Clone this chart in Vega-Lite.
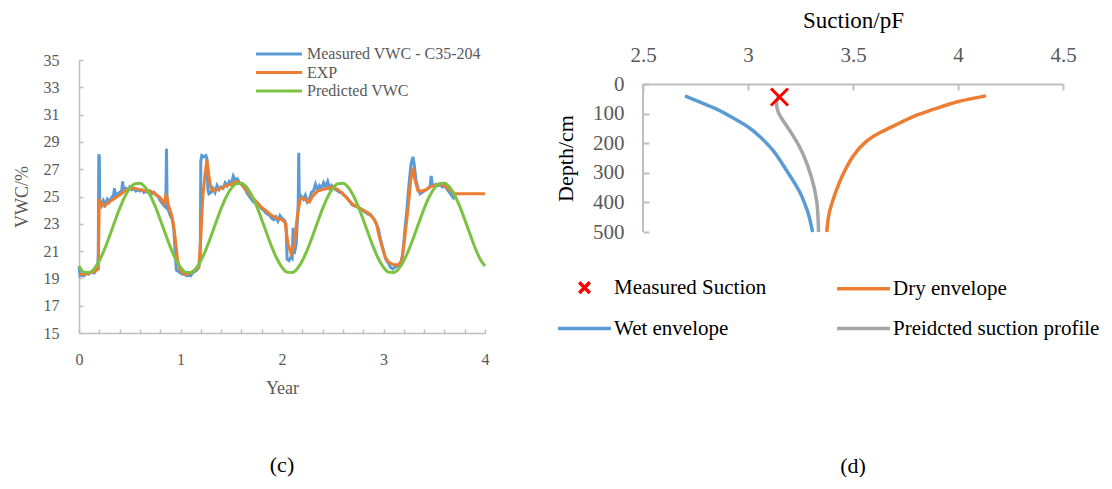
{
"$schema": "https://vega.github.io/schema/vega-lite/v6.json",
"background": "white",
"padding": {"left": 13, "top": 9, "right": 0, "bottom": 0},
"bounds": "flush",
"spacing": 158,
"resolve": {"scale": {"color": "independent", "shape": "independent"}, "legend": {"color": "independent", "shape": "independent"}},
"config": {"view": {"stroke": null}, "font": "Liberation Serif", "axis": {"grid": false, "domainColor": "#BFBFBF", "tickColor": "#BFBFBF", "domainWidth": 1.5, "tickWidth": 1.5, "labelFont": "Liberation Serif", "titleFont": "Liberation Serif", "titleFontWeight": "normal", "labelFlush": false, "labelOverlap": false}, "legend": {"labelFont": "Liberation Serif", "labelLimit": 500}},
"hconcat": [
{
"width": 406, "height": 273,
"title": {"text": "(c)", "orient": "bottom", "frame": "group", "anchor": "middle", "offset": 58, "fontSize": 22, "font": "Liberation Serif", "fontWeight": "normal", "color": "#000000"},
"encoding": {
"x": {"field": "t", "type": "quantitative", "scale": {"domain": [0, 4], "nice": false}, "axis": {"values": [0,0.2,0.4,0.6,0.8,1,1.2,1.4,1.6,1.8,2,2.2,2.4,2.6,2.8,3,3.2,3.4,3.6,3.8,4], "format": "~g", "labelExpr": "datum.value % 1 === 0 ? datum.label : ''", "labelOverlap": false, "tickSize": -4, "labelPadding": 22, "labelFontSize": 16, "labelColor": "#595959", "title": "Year", "titleFontSize": 18, "titleColor": "#595959", "titlePadding": 12}},
"y": {"field": "v", "type": "quantitative", "scale": {"domain": [15, 35], "nice": false, "zero": false}, "axis": {"values": [15,17,19,21,23,25,27,29,31,33,35], "labelOverlap": false, "tickSize": -4, "labelPadding": 24, "labelFontSize": 16, "labelColor": "#595959", "title": "VWC/%", "titleFontSize": 18, "titleColor": "#595959", "titlePadding": 12}}
},
"layer": [
{"data": {"values": [
{"t":0,"v":19.9},{"t":0.01,"v":19.2},{"t":0.03,"v":19.3},{"t":0.05,"v":19.2},{"t":0.07,"v":19.4},{"t":0.09,"v":19.3},{"t":0.11,"v":19.4},{"t":0.13,"v":19.5},{"t":0.15,"v":19.4},{"t":0.17,"v":19.6},{"t":0.185,"v":19.7},{"t":0.19,"v":21.0},{"t":0.195,"v":28.1},{"t":0.2,"v":27.9},{"t":0.205,"v":24.5},{"t":0.22,"v":24.3},{"t":0.24,"v":24.7},{"t":0.26,"v":24.4},{"t":0.28,"v":24.8},{"t":0.3,"v":24.6},{"t":0.32,"v":24.9},{"t":0.34,"v":25.1},{"t":0.35,"v":25.6},{"t":0.36,"v":25.0},{"t":0.38,"v":25.2},{"t":0.4,"v":25.3},{"t":0.42,"v":25.4},{"t":0.43,"v":26.1},{"t":0.44,"v":25.4},{"t":0.46,"v":25.6},{"t":0.48,"v":25.5},{"t":0.5,"v":25.7},{"t":0.52,"v":25.5},{"t":0.54,"v":25.6},{"t":0.56,"v":25.4},{"t":0.58,"v":25.5},{"t":0.6,"v":25.4},{"t":0.62,"v":25.5},{"t":0.64,"v":25.3},{"t":0.66,"v":25.4},{"t":0.68,"v":25.3},{"t":0.7,"v":25.4},{"t":0.72,"v":25.2},{"t":0.74,"v":25.3},{"t":0.76,"v":25.1},{"t":0.78,"v":25.0},{"t":0.8,"v":24.7},{"t":0.82,"v":24.5},{"t":0.84,"v":24.3},{"t":0.855,"v":24.2},{"t":0.862,"v":28.5},{"t":0.868,"v":24.5},{"t":0.88,"v":24.0},{"t":0.9,"v":23.6},{"t":0.92,"v":23.3},{"t":0.935,"v":22.5},{"t":0.95,"v":20.5},{"t":0.96,"v":19.6},{"t":0.98,"v":19.5},{"t":1.0,"v":19.4},{"t":1.02,"v":19.3},{"t":1.04,"v":19.3},{"t":1.06,"v":19.2},{"t":1.08,"v":19.3},{"t":1.1,"v":19.2},{"t":1.12,"v":19.4},{"t":1.14,"v":19.5},{"t":1.16,"v":19.6},{"t":1.18,"v":19.8},{"t":1.195,"v":20.5},{"t":1.2,"v":27.6},{"t":1.21,"v":28.0},{"t":1.23,"v":27.9},{"t":1.25,"v":28.0},{"t":1.26,"v":27.8},{"t":1.27,"v":25.5},{"t":1.28,"v":25.2},{"t":1.3,"v":25.3},{"t":1.32,"v":25.6},{"t":1.34,"v":25.3},{"t":1.36,"v":25.8},{"t":1.38,"v":25.5},{"t":1.4,"v":25.7},{"t":1.42,"v":25.6},{"t":1.44,"v":26.0},{"t":1.46,"v":25.8},{"t":1.48,"v":26.1},{"t":1.5,"v":25.9},{"t":1.52,"v":26.5},{"t":1.54,"v":26.2},{"t":1.56,"v":26.3},{"t":1.58,"v":26.0},{"t":1.6,"v":25.9},{"t":1.62,"v":25.7},{"t":1.64,"v":25.5},{"t":1.66,"v":25.2},{"t":1.68,"v":25.0},{"t":1.7,"v":24.8},{"t":1.72,"v":24.6},{"t":1.74,"v":24.6},{"t":1.76,"v":24.5},{"t":1.78,"v":24.3},{"t":1.8,"v":24.1},{"t":1.82,"v":24.0},{"t":1.84,"v":23.8},{"t":1.86,"v":23.7},{"t":1.88,"v":23.6},{"t":1.9,"v":23.4},{"t":1.92,"v":23.3},{"t":1.94,"v":23.5},{"t":1.96,"v":23.2},{"t":1.98,"v":23.6},{"t":2.0,"v":23.4},{"t":2.02,"v":23.3},{"t":2.04,"v":23.0},{"t":2.05,"v":20.4},{"t":2.07,"v":20.3},{"t":2.09,"v":20.6},{"t":2.1,"v":20.5},{"t":2.11,"v":22.7},{"t":2.12,"v":20.8},{"t":2.14,"v":21.5},{"t":2.16,"v":24.5},{"t":2.165,"v":28.2},{"t":2.17,"v":25.2},{"t":2.19,"v":25.0},{"t":2.21,"v":24.8},{"t":2.23,"v":25.1},{"t":2.25,"v":24.6},{"t":2.27,"v":24.8},{"t":2.29,"v":25.3},{"t":2.31,"v":25.4},{"t":2.33,"v":25.9},{"t":2.35,"v":25.5},{"t":2.37,"v":25.8},{"t":2.39,"v":25.6},{"t":2.41,"v":26.0},{"t":2.43,"v":25.7},{"t":2.45,"v":26.1},{"t":2.47,"v":25.6},{"t":2.49,"v":25.8},{"t":2.51,"v":25.6},{"t":2.53,"v":25.5},{"t":2.55,"v":25.4},{"t":2.57,"v":25.3},{"t":2.59,"v":25.3},{"t":2.61,"v":25.1},{"t":2.63,"v":25.0},{"t":2.65,"v":24.8},{"t":2.67,"v":24.6},{"t":2.69,"v":24.4},{"t":2.71,"v":24.3},{"t":2.73,"v":24.3},{"t":2.75,"v":24.2},{"t":2.77,"v":24.1},{"t":2.79,"v":24.0},{"t":2.81,"v":23.9},{"t":2.83,"v":23.8},{"t":2.85,"v":23.7},{"t":2.87,"v":23.7},{"t":2.89,"v":23.5},{"t":2.91,"v":23.3},{"t":2.93,"v":23.0},{"t":2.95,"v":22.6},{"t":2.97,"v":21.9},{"t":2.99,"v":21.3},{"t":3.01,"v":20.7},{"t":3.03,"v":20.3},{"t":3.05,"v":20.1},{"t":3.07,"v":19.8},{"t":3.09,"v":19.7},{"t":3.11,"v":19.8},{"t":3.13,"v":19.9},{"t":3.15,"v":19.9},{"t":3.17,"v":20.1},{"t":3.19,"v":20.8},{"t":3.21,"v":22.5},{"t":3.23,"v":24.0},{"t":3.25,"v":25.8},{"t":3.27,"v":27.3},{"t":3.29,"v":27.9},{"t":3.3,"v":27.5},{"t":3.32,"v":26.2},{"t":3.34,"v":25.6},{"t":3.36,"v":25.2},{"t":3.38,"v":25.3},{"t":3.4,"v":25.4},{"t":3.42,"v":25.5},{"t":3.44,"v":25.6},{"t":3.46,"v":25.8},{"t":3.47,"v":26.5},{"t":3.48,"v":25.9},{"t":3.5,"v":25.8},{"t":3.52,"v":25.9},{"t":3.54,"v":25.8},{"t":3.56,"v":25.9},{"t":3.58,"v":25.7},{"t":3.6,"v":25.8},{"t":3.62,"v":25.6},{"t":3.64,"v":25.4},{"t":3.66,"v":25.2},{"t":3.68,"v":25.0},{"t":3.7,"v":24.8}
]},
"mark": {"type": "line", "strokeWidth": 3},
"encoding": {"color": {"datum": "Measured VWC - C35-204", "type": "nominal", "scale": {"domain": ["Measured VWC - C35-204", "EXP", "Predicted VWC"], "range": ["#5B9BD5", "#ED7D31", "#7CC242"]}, "legend": {"title": null, "orient": "none", "legendX": 192, "legendY": -14, "direction": "vertical", "symbolType": "M-4,0L4,0", "symbolSize": 132, "symbolStrokeWidth": 3, "labelFontSize": 16, "labelColor": "#595959", "labelOffset": 20, "labelLimit": 500, "rowPadding": 2.5, "padding": 0}}}
},
{"data": {"values": [
{"t":0,"v":19.3},{"t":0.05,"v":19.3},{"t":0.1,"v":19.4},{"t":0.15,"v":19.5},{"t":0.19,"v":19.7},{"t":0.2,"v":24.8},{"t":0.22,"v":24.5},{"t":0.25,"v":24.3},{"t":0.28,"v":24.5},{"t":0.32,"v":24.7},{"t":0.36,"v":24.9},{"t":0.4,"v":25.1},{"t":0.45,"v":25.4},{"t":0.5,"v":25.6},{"t":0.55,"v":25.6},{"t":0.6,"v":25.5},{"t":0.65,"v":25.4},{"t":0.7,"v":25.4},{"t":0.75,"v":25.2},{"t":0.8,"v":24.9},{"t":0.84,"v":24.5},{"t":0.86,"v":25.2},{"t":0.88,"v":24.4},{"t":0.91,"v":23.7},{"t":0.93,"v":23.0},{"t":0.95,"v":21.8},{"t":0.97,"v":20.4},{"t":0.99,"v":19.7},{"t":1.02,"v":19.4},{"t":1.06,"v":19.3},{"t":1.1,"v":19.4},{"t":1.14,"v":19.6},{"t":1.18,"v":19.8},{"t":1.2,"v":22.0},{"t":1.22,"v":25.0},{"t":1.24,"v":26.5},{"t":1.26,"v":27.7},{"t":1.28,"v":26.5},{"t":1.3,"v":25.6},{"t":1.33,"v":25.4},{"t":1.36,"v":25.5},{"t":1.4,"v":25.6},{"t":1.45,"v":25.8},{"t":1.5,"v":25.9},{"t":1.55,"v":26.1},{"t":1.6,"v":25.9},{"t":1.65,"v":25.5},{"t":1.7,"v":25.0},{"t":1.75,"v":24.6},{"t":1.8,"v":24.2},{"t":1.85,"v":23.9},{"t":1.9,"v":23.6},{"t":1.95,"v":23.4},{"t":2.0,"v":23.3},{"t":2.03,"v":23.1},{"t":2.06,"v":21.5},{"t":2.09,"v":20.8},{"t":2.12,"v":21.4},{"t":2.15,"v":23.5},{"t":2.18,"v":24.8},{"t":2.21,"v":24.9},{"t":2.24,"v":24.7},{"t":2.27,"v":24.6},{"t":2.3,"v":25.0},{"t":2.35,"v":25.4},{"t":2.4,"v":25.5},{"t":2.45,"v":25.6},{"t":2.5,"v":25.7},{"t":2.55,"v":25.5},{"t":2.6,"v":25.2},{"t":2.65,"v":24.8},{"t":2.7,"v":24.4},{"t":2.75,"v":24.2},{"t":2.8,"v":24.0},{"t":2.85,"v":23.8},{"t":2.9,"v":23.4},{"t":2.93,"v":23.0},{"t":2.96,"v":22.0},{"t":2.99,"v":21.2},{"t":3.02,"v":20.5},{"t":3.05,"v":20.2},{"t":3.1,"v":20.0},{"t":3.15,"v":20.0},{"t":3.18,"v":20.3},{"t":3.21,"v":22.0},{"t":3.24,"v":24.0},{"t":3.27,"v":26.3},{"t":3.29,"v":27.1},{"t":3.31,"v":26.2},{"t":3.34,"v":25.4},{"t":3.38,"v":25.4},{"t":3.42,"v":25.5},{"t":3.46,"v":25.7},{"t":3.5,"v":25.8},{"t":3.55,"v":25.9},{"t":3.6,"v":25.8},{"t":3.65,"v":25.5},{"t":3.7,"v":25.2},{"t":4.0,"v":25.2}
]},
"mark": {"type": "line", "strokeWidth": 3},
"encoding": {"color": {"datum": "EXP", "type": "nominal"}}
},
{"data": {"values": [
{"t":0,"v":19.9},{"t":0.05,"v":19.46},{"t":0.1,"v":19.43},{"t":0.15,"v":19.71},{"t":0.2,"v":20.29},{"t":0.25,"v":21.11},{"t":0.3,"v":22.08},{"t":0.35,"v":23.11},{"t":0.4,"v":24.11},{"t":0.45,"v":24.96},{"t":0.5,"v":25.59},{"t":0.55,"v":25.94},{"t":0.6,"v":25.97},{"t":0.65,"v":25.69},{"t":0.7,"v":25.11},{"t":0.75,"v":24.29},{"t":0.8,"v":23.32},{"t":0.85,"v":22.29},{"t":0.9,"v":21.29},{"t":0.95,"v":20.44},
{"t":1.0,"v":19.81},{"t":1.05,"v":19.46},{"t":1.1,"v":19.43},{"t":1.15,"v":19.71},{"t":1.2,"v":20.29},{"t":1.25,"v":21.11},{"t":1.3,"v":22.08},{"t":1.35,"v":23.11},{"t":1.4,"v":24.11},{"t":1.45,"v":24.96},{"t":1.5,"v":25.59},{"t":1.55,"v":25.94},{"t":1.6,"v":25.97},{"t":1.65,"v":25.69},{"t":1.7,"v":25.11},{"t":1.75,"v":24.29},{"t":1.8,"v":23.32},{"t":1.85,"v":22.29},{"t":1.9,"v":21.29},{"t":1.95,"v":20.44},
{"t":2.0,"v":19.81},{"t":2.05,"v":19.46},{"t":2.1,"v":19.43},{"t":2.15,"v":19.71},{"t":2.2,"v":20.29},{"t":2.25,"v":21.11},{"t":2.3,"v":22.08},{"t":2.35,"v":23.11},{"t":2.4,"v":24.11},{"t":2.45,"v":24.96},{"t":2.5,"v":25.59},{"t":2.55,"v":25.94},{"t":2.6,"v":25.97},{"t":2.65,"v":25.69},{"t":2.7,"v":25.11},{"t":2.75,"v":24.29},{"t":2.8,"v":23.32},{"t":2.85,"v":22.29},{"t":2.9,"v":21.29},{"t":2.95,"v":20.44},
{"t":3.0,"v":19.81},{"t":3.05,"v":19.46},{"t":3.1,"v":19.43},{"t":3.15,"v":19.71},{"t":3.2,"v":20.29},{"t":3.25,"v":21.11},{"t":3.3,"v":22.08},{"t":3.35,"v":23.11},{"t":3.4,"v":24.11},{"t":3.45,"v":24.96},{"t":3.5,"v":25.59},{"t":3.55,"v":25.94},{"t":3.6,"v":25.97},{"t":3.65,"v":25.69},{"t":3.7,"v":25.11},{"t":3.75,"v":24.29},{"t":3.8,"v":23.32},{"t":3.85,"v":22.29},{"t":3.9,"v":21.29},{"t":3.95,"v":20.44},{"t":4.0,"v":19.9}
]},
"mark": {"type": "line", "strokeWidth": 3, "interpolate": "monotone"},
"encoding": {"color": {"datum": "Predicted VWC", "type": "nominal"}}
}
]
},
{
"width": 420, "height": 172,
"title": {"text": "(d)", "orient": "bottom", "frame": "group", "anchor": "middle", "offset": 117, "fontSize": 22, "font": "Liberation Serif", "fontWeight": "normal", "color": "#000000"},
"encoding": {
"x": {"field": "pf", "type": "quantitative", "scale": {"domain": [2.5, 4.5], "nice": false, "zero": false}, "axis": {"orient": "top", "offset": -24, "values": [2.5, 3, 3.5, 4, 4.5], "format": "~g", "labelOverlap": false, "domain": true, "domainColor": "#BFBFBF", "domainWidth": 2, "ticks": true, "tickColor": "#BFBFBF", "tickWidth": 2, "tickSize": -6, "zindex": 1, "labelPadding": 25, "labelFontSize": 21, "labelColor": "#595959", "title": "Suction/pF", "titleFontSize": 23, "titleColor": "#000000", "titlePadding": 12}},
"y": {"field": "depth", "type": "quantitative", "scale": {"domain": [-81.1, 500], "reverse": true, "nice": false, "zero": false}, "axis": {"values": [0, 100, 200, 300, 400, 500], "labelOverlap": false, "domain": false, "ticks": true, "tickColor": "#BFBFBF", "tickWidth": 2, "tickSize": -6, "zindex": 1, "labelPadding": 25, "labelFontSize": 21, "labelColor": "#595959", "title": "Depth/cm", "titleFontSize": 22, "titleColor": "#000000", "titlePadding": 15, "titleY": 98}}
},
"layer": [
{"data": {"values": [{"pf": 2.5, "depth": 0}]},
"mark": {"type": "rule", "color": "#BFBFBF", "strokeWidth": 2},
"encoding": {"y2": {"datum": 500}}
},
{"data": {"values": [
{"pf":2.70,"depth":40},{"pf":2.76,"depth":58},{"pf":2.835,"depth":80},{"pf":2.91,"depth":107},{"pf":2.994,"depth":142},{"pf":3.06,"depth":180},{"pf":3.121,"depth":226},{"pf":3.17,"depth":277},{"pf":3.216,"depth":328},{"pf":3.25,"depth":370},{"pf":3.271,"depth":406},{"pf":3.29,"depth":445},{"pf":3.303,"depth":485},{"pf":3.308,"depth":500}
]},
"mark": {"type": "line", "strokeWidth": 3.5, "interpolate": "natural"},
"encoding": {
"order": {"field": "depth"},
"color": {"datum": "Wet envelope", "type": "nominal", "scale": {"domain": ["Measured Suction", "Wet envelope", "Dry envelope", "Preidcted suction profile"], "range": ["#FF0000", "#5B9BD5", "#ED7D31", "#A5A5A5"]}, "legend": {"title": null, "orient": "none", "legendX": -87, "legendY": 199, "columns": 2, "columnPadding": 63, "rowPadding": 0, "symbolSize": 2800, "symbolStrokeWidth": 3.5, "labelFontSize": 21, "labelColor": "#000000", "labelOffset": 1, "labelLimit": 500, "padding": 0}}
}
},
{"data": {"values": [
{"pf":3.145,"depth":42},{"pf":3.137,"depth":60},{"pf":3.137,"depth":75},{"pf":3.145,"depth":97},{"pf":3.168,"depth":125},{"pf":3.216,"depth":176},{"pf":3.263,"depth":238},{"pf":3.303,"depth":317},{"pf":3.327,"depth":395},{"pf":3.334,"depth":460},{"pf":3.336,"depth":500}
]},
"mark": {"type": "line", "strokeWidth": 3.5, "interpolate": "natural"},
"encoding": {"order": {"field": "depth"}, "color": {"datum": "Preidcted suction profile", "type": "nominal"}}
},
{"data": {"values": [
{"pf":4.133,"depth":40},{"pf":3.998,"depth":60},{"pf":3.882,"depth":86},{"pf":3.803,"depth":105},{"pf":3.724,"depth":131},{"pf":3.629,"depth":164},{"pf":3.565,"depth":193},{"pf":3.501,"depth":243},{"pf":3.438,"depth":328},{"pf":3.398,"depth":406},{"pf":3.383,"depth":450},{"pf":3.375,"depth":500}
]},
"mark": {"type": "line", "strokeWidth": 3.5, "interpolate": "natural"},
"encoding": {"order": {"field": "depth"}, "color": {"datum": "Dry envelope", "type": "nominal"}}
},
{"data": {"values": [{"pf": 3.15, "depth": 44}]},
"mark": {"type": "point", "filled": false, "strokeWidth": 3, "size": 7225, "opacity": 1},
"encoding": {"color": {"datum": "Measured Suction", "type": "nominal"}, "shape": {"datum": "Measured Suction", "type": "nominal", "scale": {"domain": ["Measured Suction", "Wet envelope", "Dry envelope", "Preidcted suction profile"], "range": ["M-0.2,-0.2L0.2,0.2M0.2,-0.2L-0.2,0.2", "stroke", "stroke", "stroke"]}, "legend": {"title": null, "orient": "none", "legendX": -87, "legendY": 199, "columns": 2, "columnPadding": 63, "rowPadding": 0, "symbolSize": 2800, "symbolStrokeWidth": 3.5, "labelFontSize": 21, "labelColor": "#000000", "labelOffset": 1, "labelLimit": 500, "padding": 0}}}
}
]
}
]
}
